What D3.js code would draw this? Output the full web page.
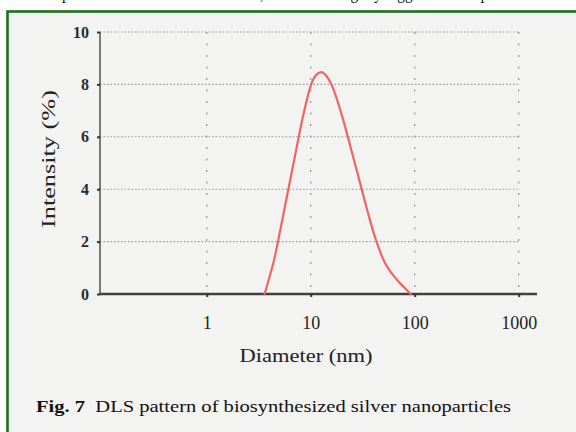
<!DOCTYPE html>
<html>
<head>
<meta charset="utf-8">
<script src="https://cdn.jsdelivr.net/npm/d3@7"></script>
<style>
  html, body { margin: 0; padding: 0; background: #ffffff; }
  svg { display: block; }
</style>
</head>
<body>
<svg id="chart" width="576" height="432"></svg>
<script>
// ---- data ----
const diameters = [3.6, 3.98, 4.47, 5.01, 5.62, 6.31, 7.08, 7.94, 8.91, 10.0, 11.2, 12.6,
                   14.1, 15.8, 17.8, 20.0, 22.4, 25.1, 28.2, 31.6, 35.5, 39.8, 44.7,
                   50.1, 56.2, 63.1, 70.8, 79.4, 91.2];
const intensity = [0, 0.6, 1.35, 2.3, 3.3, 4.3, 5.3, 6.3, 7.2, 7.95, 8.35, 8.47,
                   8.33, 8.0, 7.45, 6.8, 6.1, 5.35, 4.6, 3.85, 3.1, 2.4, 1.8,
                   1.3, 0.95, 0.68, 0.45, 0.25, 0];
const xTicks = [1, 10, 100, 1000];
const yTicks = [0, 2, 4, 6, 8, 10];
const xDomain = [0.094, 1500];
const yDomain = [0, 10];
const xTitle = "Diameter (nm)";
const yTitle = "Intensity (%)";
const captionBold = "Fig. 7";
const captionText = "DLS pattern of biosynthesized silver nanoparticles";
const topText = "particle size obtained from TEM, which was slightly bigger than the particles";

const svg = d3.select("#chart");
const serif = "'Liberation Serif', 'DejaVu Serif', serif";

// page frame
svg.append("rect").attr("x", 0).attr("y", 0).attr("width", 576).attr("height", 432).attr("fill", "#ffffff");
svg.append("text").attr("x", 62).attr("y", -1).attr("font-family", serif).attr("font-size", 18)
  .attr("fill", "#111").attr("textLength", 470).attr("lengthAdjust", "spacingAndGlyphs").text(topText);
svg.append("rect").attr("x", 7.5).attr("y", 11.5).attr("width", 580).attr("height", 440)
  .attr("fill", "#f3f3f1").attr("stroke", "#1d6e1d").attr("stroke-width", 2.6);

// scales
const x = d3.scaleLog().domain(xDomain).range([100, 537]);
const y = d3.scaleLinear().domain(yDomain).range([294, 32]);

// grid
const g = svg.append("g");
g.selectAll("line.hgrid").data(yTicks.filter(v => v > 0)).join("line")
  .attr("class", "hgrid")
  .attr("x1", x(xDomain[0])).attr("x2", x(1000))
  .attr("y1", d => y(d)).attr("y2", d => y(d))
  .attr("stroke", "#9a9a9a").attr("stroke-width", 1.1).attr("stroke-dasharray", "1.6,1.9");
g.selectAll("line.vgrid").data(xTicks).join("line")
  .attr("class", "vgrid")
  .attr("x1", d => x(d)).attr("x2", d => x(d))
  .attr("y1", y(10)).attr("y2", y(0))
  .attr("stroke", "#9a9a9a").attr("stroke-width", 1.3).attr("stroke-dasharray", "2,9.5");

// axes lines
g.append("line").attr("x1", x(xDomain[0])).attr("x2", x(xDomain[0]))
  .attr("y1", y(10)).attr("y2", y(0)).attr("stroke", "#5a5a5a").attr("stroke-width", 1.6);
g.append("line").attr("x1", x(xDomain[0])).attr("x2", x(xDomain[1]))
  .attr("y1", y(0)).attr("y2", y(0)).attr("stroke", "#404040").attr("stroke-width", 2.6);

// y axis ticks and labels
const yAxis = d3.axisLeft(y).tickValues(yTicks).tickSize(3).tickPadding(8).tickFormat(d3.format("d"));
const ya = svg.append("g").attr("transform", `translate(${x(xDomain[0])},0)`).call(yAxis);
ya.select(".domain").remove();
ya.selectAll(".tick line").attr("stroke", "#333").attr("stroke-width", 2);
ya.selectAll(".tick text").attr("font-family", serif).attr("font-size", 16).attr("font-weight", "bold")
  .attr("fill", "#2a2a2a");

// x axis ticks and labels
const xAxis = d3.axisBottom(x).tickValues(xTicks).tickSize(3).tickPadding(19).tickFormat(d3.format("d"));
const xa = svg.append("g").attr("transform", `translate(0,${y(0)})`).call(xAxis);
xa.select(".domain").remove();
xa.selectAll(".tick line").attr("stroke", "#333").attr("stroke-width", 2);
xa.selectAll(".tick text").attr("font-family", serif).attr("font-size", 18).attr("fill", "#222");

// curve
const pts = diameters.map((d, i) => [x(d), y(intensity[i])]);
svg.append("path").datum(pts)
  .attr("d", d3.line().curve(d3.curveMonotoneX))
  .attr("fill", "none").attr("stroke", "#f06464").attr("stroke-width", 2.2)
  .attr("stroke-linejoin", "round").attr("stroke-linecap", "round");

// titles
svg.append("text").attr("x", 306).attr("y", 362).attr("text-anchor", "middle")
  .attr("font-family", serif).attr("font-size", 18).attr("fill", "#222")
  .attr("textLength", 133).attr("lengthAdjust", "spacingAndGlyphs").text(xTitle);
svg.append("text").attr("transform", "translate(55,159) rotate(-90)").attr("text-anchor", "middle")
  .attr("font-family", serif).attr("font-size", 18).attr("fill", "#222")
  .attr("textLength", 138).attr("lengthAdjust", "spacingAndGlyphs").text(yTitle);

// caption
const cap = svg.append("text").attr("x", 36).attr("y", 412)
  .attr("font-family", serif).attr("font-size", 17).attr("fill", "#111")
  .attr("textLength", 475).attr("lengthAdjust", "spacingAndGlyphs");
cap.append("tspan").attr("font-weight", "bold").text(captionBold);
cap.append("tspan").text("\u00a0\u00a0" + captionText);
</script>
</body>
</html>
